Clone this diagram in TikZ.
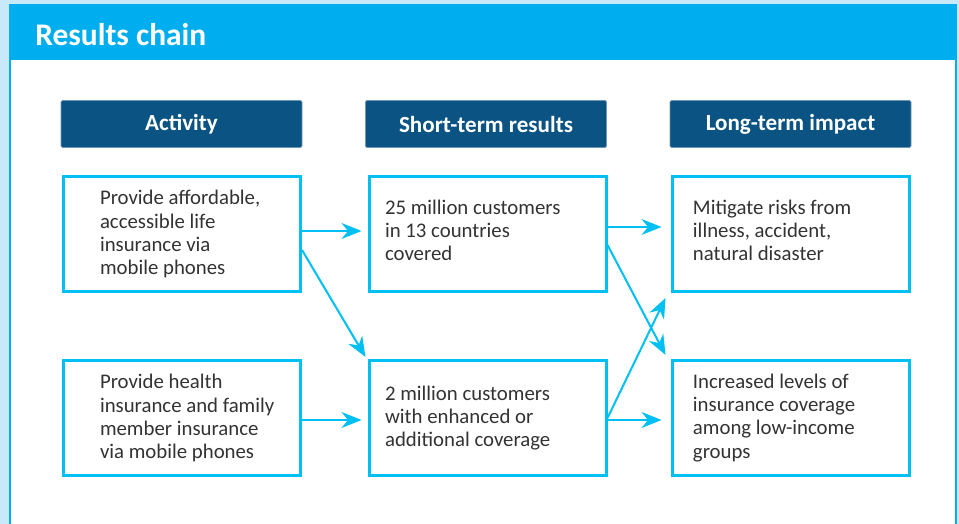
\documentclass[tikz,border=0pt]{standalone}
\usepackage{fontspec}
\setmainfont{Carlito}
\usetikzlibrary{arrows.meta,calc}
\definecolor{bgblue}{HTML}{C8E9F9}
\definecolor{bandblue}{HTML}{00AEEF}
\definecolor{boxblue}{HTML}{00C0F3}
\definecolor{darkblue}{HTML}{0A5382}
\definecolor{txtgray}{HTML}{333333}

\begin{document}
\begin{tikzpicture}[x=0.75pt,y=-0.75pt,
	hdr/.style={fill=darkblue,draw=darkblue!60!white,line width=0.5pt,rounded corners=1pt,
		minimum width=180.75pt,minimum height=35.25pt,inner sep=0pt,text=white,
		font=\fontsize{17.3}{20}\selectfont\bfseries},
	box/.style={draw=boxblue,line width=2.25pt,minimum width=177.75pt,minimum height=86.25pt,
		align=flush left,text=txtgray,text width=157.5pt,font=\fontsize{15.6}{17.3}\selectfont,
		execute at begin node={\leftskip=#1\relax}},
	conn/.style={-{Stealth[length=15pt,width=12pt]},draw=boxblue,line width=1.5pt}]
					\useasboundingbox (0,0) rectangle (959,524);
					\fill[bgblue] (0,0) rectangle (959,524);
					\fill[white] (10,5) rectangle (956,524);
					\draw[bandblue,line width=1.5pt] (10,524) -- (10,5) -- (956,5) -- (956,524);
					\fill[bandblue] (9,5) rectangle (957,60);
					\node[anchor=base west,inner sep=0pt,text=white,font=\fontsize{23.6}{28}\selectfont\bfseries] (title) at (35,46) {Results chain};
					% column heads
					\node[hdr] (hact) at (181.5,124) {Activity};
					\node[hdr] (hshort) at (486,124) {Short-term results};
					\node[hdr] (hlong) at (790.5,124) {Long-term impact};
					% boxes
					\node[box=17.25pt] (a1) at (182,234) {Provide affordable,\\accessible life\\insurance via\\mobile phones};
					\node[box=17.25pt] (a2) at (182,418) {Provide health\\insurance and family\\member insurance\\via mobile phones};
					\node[box=1.9pt] (b1) at (487.5,234) {25 million customers\\in 13 countries\\covered\vspace{6pt}};
					\node[box=1.9pt] (b2) at (487.5,418) {2 million customers\\with enhanced or\\additional coverage};
					\node[box=5.6pt] (c1) at (790.5,234) {Mitigate risks from\\illness, accident,\\natural disaster\vspace{6pt}};
					\node[box=5.6pt] (c2) at (790.5,418) {Increased levels of\\insurance coverage\\among low-income\\groups};
					% links
					\draw[conn] ($(a1.east)+(0,-3)$) -- ($(b1.west)+(-6,-3)$);
					\draw[conn] ($(a1.east)+(0,16)$) -- ($(b2.north west)+(-2,-2)$);
					\draw[conn] ($(a2.east)+(0,2)$) -- ($(b2.west)+(-6,2)$);
					\draw[conn] ($(b1.east)+(0,-7)$) -- ($(c1.west)+(-9,-7)$);
					\draw[conn] ($(b1.east)+(0,11)$) -- ($(c2.north west)+(-5,-4)$);
					\draw[conn] ($(b2.east)+(0,0)$) -- ($(c1.south west)+(-5,5)$);
					\draw[conn] ($(b2.east)+(0,2)$) -- ($(c2.west)+(-9,2)$);
				\end{tikzpicture}
\end{document}
